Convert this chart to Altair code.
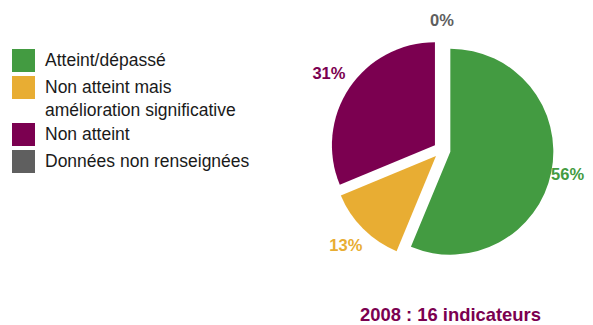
import altair as alt
import pandas as pd

categories = ["Atteint/dépassé", "Non atteint mais\namélioration significative", "Non atteint", "Données non renseignées"]
counts = [9, 2, 5, 0]
pct_labels = ["56%", "13%", "31%", "0%"]
colors = ["#439B41", "#E8AD33", "#7B0050", "#5F5F5F"]
title_text = "2008 : 16 indicateurs"

# geometry / style (pixels)
CX, CY = 434, 142
R = 103
EXPLODE = 8.5
FONT = "Liberation Sans"

df = pd.DataFrame({"cat": categories, "n": counts, "pct": pct_labels, "idx": list(range(len(categories)))})


def build(use_style):
    color = alt.Color(
        "cat:N",
        scale=alt.Scale(domain=categories, range=colors),
        legend=alt.Legend(
            title=None, orient="none", legendX=4, legendY=41, padding=0,
            symbolType="square", symbolSize=529, symbolStrokeWidth=0, symbolOpacity=1,
            labelFont=FONT, labelFontSize=17.5, labelColor="#1a1a1a", labelOffset=10,
            labelLimit=400, rowPadding=4,
            labelExpr="split(datum.label, '\\n')",
        ),
    )

    base = alt.Chart(df).transform_joinaggregate(
        total="sum(n)"
    ).transform_window(
        cum="sum(n)", sort=[alt.SortField("idx")]
    ).transform_calculate(
        mid="2*PI*(datum.cum - datum.n/2)/datum.total",
    ).transform_calculate(
        ex=f"{CX} + {EXPLODE}*sin(datum.mid)",
        ey=f"{CY} - {EXPLODE}*cos(datum.mid)",
        # label distance from centre: outside the pie, pulled in where the label would leave the frame
        lr="datum.n == 0 ? 129 : (sin(datum.mid) > 0.9 ? 128 : 136)",
    )

    arcs = base.mark_arc(outerRadius=R).encode(
        theta=alt.Theta("n:Q", stack=True),
        order=alt.Order("idx:Q"),
        color=color,
        x=alt.X("ex:Q", scale=None),
        y=alt.Y("ey:Q", scale=None),
    )

    texts = base.mark_text(font=FONT, fontSize=16.5, fontWeight="bold").encode(
        theta=alt.Theta("mid:Q", scale=None, stack=False),
        radius=alt.Radius("lr:Q", scale=None),
        text="pct:N",
        color=alt.Color("cat:N", scale=alt.Scale(domain=categories, range=colors), legend=None),
        x=alt.value(CX),
        y=alt.value(CY),
    )

    ch = alt.layer(arcs, texts).properties(
        width=577,
        height=292,
        autosize=alt.AutoSizeParams(type="none"),
        padding={"left": 0, "top": 0, "right": 0, "bottom": 25},
        title=alt.TitleParams(
            title_text, orient="bottom", anchor="start", dx=352, offset=6,
            font=FONT, fontSize=18.4, fontWeight="bold", color="#7B0050",
        ),
    )
    if use_style:
        ch = ch.configure(
            view=alt.ViewConfig(stroke=None),
            style={"guide-label": {"lineHeight": 23}},
        )
    else:
        ch = ch.configure_view(stroke=None)
    return ch


try:
    chart = build(True)
    chart.to_dict()
except Exception:
    chart = build(False)

chart.save("out.html", embed_options={"renderer": "svg", "actions": False})
